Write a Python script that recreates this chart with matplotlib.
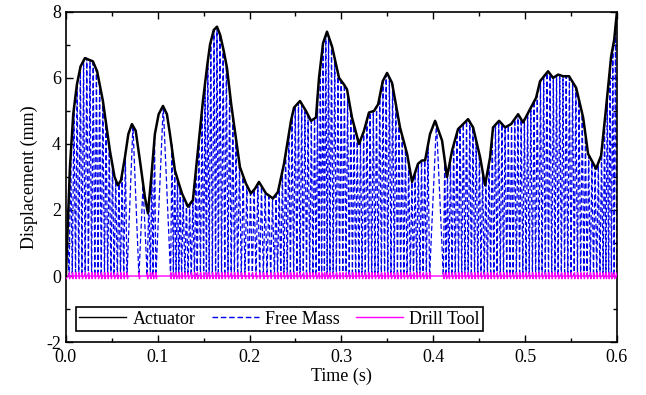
import matplotlib
matplotlib.use('Agg')
import matplotlib.pyplot as plt
from matplotlib.ticker import MultipleLocator
import numpy as np

# actuator envelope, time in ms / displacement in mm
act_ms = [0, 4.4, 8, 12, 16, 20.7, 25, 29.4, 34, 40.3, 47.9, 53, 56.6, 60, 64.3,
          68, 71.9, 76, 80.6, 86, 89.3, 93, 96.9, 101, 105.7, 110, 113.3, 118.7,
          123, 126.4, 132.9, 138.3, 143, 149.2, 154, 156.9, 161, 164.5, 168, 172,
          175.4, 180, 185, 189.5, 196, 201.5, 206, 210.2, 217.9, 225.5, 230.9,
          237.5, 245.1, 248.4, 254.9, 261.4, 266.9, 272.3, 275.6, 280, 284.3,
          289.8, 297.4, 302.8, 306.1, 311.5, 319.2, 324.6, 330, 335.5, 340, 345,
          349.7, 355.1, 363.8, 371.5, 376.9, 383.4, 387.8, 391.1, 396.5, 402,
          409.6, 415, 420.5, 427, 432.5, 437.9, 443.4, 451, 456.4, 461.9, 465.1,
          471.7, 478.2, 484.7, 492.4, 497.8, 504.4, 512, 516.3, 525, 530.5, 536,
          541.4, 547.9, 555.6, 563.2, 568.6, 577.3, 582.8, 588.2, 593.7, 597, 600]
act_mm = [0, 3.3, 4.9, 5.8, 6.35, 6.6, 6.55, 6.5, 6.2, 5.3, 3.8, 3.0, 2.75, 2.9, 3.6,
          4.3, 4.6, 4.4, 3.5, 2.4, 1.9, 3.0, 4.3, 4.9, 5.15, 4.9, 4.3, 3.2,
          2.8, 2.5, 2.1, 2.3, 3.6, 5.3, 6.4, 7.0, 7.45, 7.55, 7.3, 6.8,
          6.3, 5.2, 4.2, 3.3, 2.8, 2.5, 2.65, 2.85, 2.5, 2.35, 2.55,
          3.4, 4.7, 5.1, 5.3, 5.0, 4.7, 4.8, 6.0, 7.05, 7.4,
          6.95, 6.0, 5.8, 5.65, 4.8, 4.0, 4.4, 4.95, 5.0, 5.2, 5.9,
          6.15, 5.85, 4.5, 3.7, 2.85, 3.4, 3.5, 3.5, 4.3, 4.7,
          4.1, 3.0, 3.8, 4.45, 4.6, 4.75, 4.5, 3.6, 2.75, 3.6, 4.5,
          4.7, 4.5, 4.6, 4.9, 4.65, 5.0, 5.4, 5.9, 6.2, 6.0, 6.1,
          6.05, 6.05, 5.7, 4.8, 3.7, 3.25, 3.65, 5.1, 6.65, 7.15, 8.0]

# free mass: impacts on the drill tool (ms) and height reached between impacts (mm)
fm_low_ms = [0, 3.5, 7, 10.5, 14, 17.5, 21, 24.5, 28, 31.5, 35, 38.5, 42, 45.5, 49,
             52.5, 56, 59.5, 63, 66.5, 79.5, 88.5, 92, 95, 98, 114, 117, 120, 123,
             126, 129.5, 133, 136.5, 140, 143, 146.5, 150, 153, 156, 159.5, 163,
             166, 169.5, 173, 176.5, 180, 183.5, 187, 191, 195, 199, 203, 207, 211,
             215, 219, 223, 227, 230.5, 234, 237.5, 241, 244.5, 248, 251.5, 255,
             258.5, 262, 265.5, 269, 272.5, 275.5, 278.5, 281.5, 284.5, 287.5, 291,
             294.5, 298, 301.5, 305, 308.5, 312, 315.5, 319, 322.5, 326, 329.5, 333,
             336.5, 340, 343.5, 347, 350.5, 354, 357.5, 361, 364.5, 368, 371.5, 375,
             378.5, 382, 385.5, 389, 392.5, 396, 411, 414, 417, 420.5, 424, 427.5,
             431, 434.5, 438, 441.5, 445, 448.5, 452, 455.5, 459, 462.5, 466, 469.5,
             473, 476.5, 480, 483.5, 487, 490.5, 494, 497.5, 501, 504.5, 508, 511.5,
             515, 518.5, 522, 525.5, 529, 532.5, 536, 539.5, 543, 546.5, 550, 553.5,
             557, 560.5, 564, 567.5, 571, 574.5, 578, 581.5, 585, 588, 591, 594,
             597, 600]
fm_peak_mm = [1.3, 3.7, 5.1, 5.85, 6.3, 6.5, 6.6, 6.55, 6.45, 6.25, 5.8, 5.3, 4.6,
              3.9, 3.35, 2.9, 2.8, 3.1, 3.65, 4.55, 2.75, 2.3, 3.15, 4.2, 5.15,
              4.0, 3.25, 2.95, 2.65, 2.4, 2.2, 2.15, 2.3, 3.2, 4.1, 5.1, 5.85, 6.5,
              7.1, 7.45, 7.55, 7.3, 6.9, 6.4, 5.6, 4.85, 4.15, 3.4, 3.0, 2.75, 2.5,
              2.6, 2.8, 2.7, 2.5, 2.4, 2.35, 2.45, 2.75, 3.15, 3.8, 4.35, 4.9, 5.15,
              5.25, 5.2, 5.05, 4.85, 4.7, 4.75, 5.4, 6.35, 7.05, 7.3, 7.25, 7.0, 6.6,
              6.15, 5.9, 5.8, 5.5, 5.0, 4.55, 4.2, 4.1, 4.4, 4.8, 4.95, 5.0, 5.15,
              5.5, 5.9, 6.1, 6.0, 5.8, 5.2, 4.65, 4.2, 3.85, 3.35, 2.85, 3.1, 3.4,
              3.5, 3.5, 3.95, 4.65, 3.5, 3.1, 3.5, 3.95, 4.35, 4.5, 4.6, 4.7, 4.7,
              4.5, 4.1, 3.7, 3.15, 2.9, 3.45, 4.3, 4.6, 4.7, 4.6, 4.5, 4.55, 4.65,
              4.75, 4.9, 4.75, 4.75, 4.9, 5.1, 5.3, 5.6, 5.9, 6.05, 6.15, 6.1, 6.0,
              6.05, 6.1, 6.05, 6.05, 6.0, 5.85, 5.7, 5.3, 4.9, 4.2, 3.65, 3.45, 3.3,
              3.35, 3.7, 4.6, 5.45, 6.3, 6.9, 7.6]

# drill tool kick at each impact (mm)
drill_kick_mm = 0.1

x_ticks = [0.0, 0.1, 0.2, 0.3, 0.4, 0.5, 0.6]
y_ticks = [-2, 0, 2, 4, 6, 8]


def free_mass_path(lows, peaks):
    t, y = [lows[0]], [0.0]
    for i, h in enumerate(peaks):
        t += [(lows[i] + lows[i + 1]) / 2.0, lows[i + 1]]
        y += [h, 0.0]
    return np.array(t) / 1000.0, np.array(y)


def drill_path(lows, kick):
    t, y = [], []
    for tl in lows:
        t += [tl, tl + 0.3, tl + 0.6, tl + 1.0]
        y += [0.0, kick, -0.8 * kick, 0.0]
    return np.array(t) / 1000.0, np.array(y)


plt.rcParams['font.family'] = ['Liberation Serif', 'DejaVu Serif']
plt.rcParams['axes.unicode_minus'] = False

fig = plt.figure(figsize=(6.46, 3.95), dpi=100)
ax = fig.add_axes([0.102, 0.134, 0.853, 0.836])

fm_t, fm_y = free_mass_path(fm_low_ms, fm_peak_mm)
dr_t, dr_y = drill_path(fm_low_ms, drill_kick_mm)

ax.plot(np.array(act_ms) / 1000.0, act_mm, color='black', lw=1.8,
        solid_joinstyle='round', label='Actuator', zorder=4)
ax.plot(fm_t, fm_y, color='#0000ee', lw=0.9, ls=(0, (4, 2)),
        label='Free Mass', zorder=2)
ax.plot(dr_t, dr_y, color='#ff00ff', lw=1.0, label='Drill Tool', zorder=3)

ax.set_xlim(0, 0.6)
ax.set_ylim(-2, 8)
ax.set_xticks(x_ticks)
ax.set_xticklabels(['{:.1f}'.format(v) for v in x_ticks])
ax.set_yticks(y_ticks)
ax.xaxis.set_minor_locator(MultipleLocator(0.05))
ax.yaxis.set_minor_locator(MultipleLocator(1))
ax.tick_params(which='both', direction='in', top=True, right=True,
               labelsize=13, width=1.0)
ax.tick_params(axis='x', pad=5)
ax.tick_params(which='major', length=5)
ax.tick_params(which='minor', length=3)
for sp in ax.spines.values():
    sp.set_linewidth(1.2)

ax.set_xlabel('Time (s)', fontsize=13, labelpad=1)
ax.set_ylabel('Displacement (mm)', fontsize=13, labelpad=6)

leg = ax.legend(loc='lower left', bbox_to_anchor=(0.018, 0.033), ncol=3,
                fontsize=13, frameon=True, fancybox=False, edgecolor='black',
                framealpha=1, handlelength=2.6, columnspacing=0.9,
                handletextpad=0.35, borderpad=0.2, borderaxespad=0)
leg.get_frame().set_linewidth(1.2)
for h in leg.legend_handles:
    h.set_linewidth(1.0)

fig.savefig('out.png', dpi=100)
